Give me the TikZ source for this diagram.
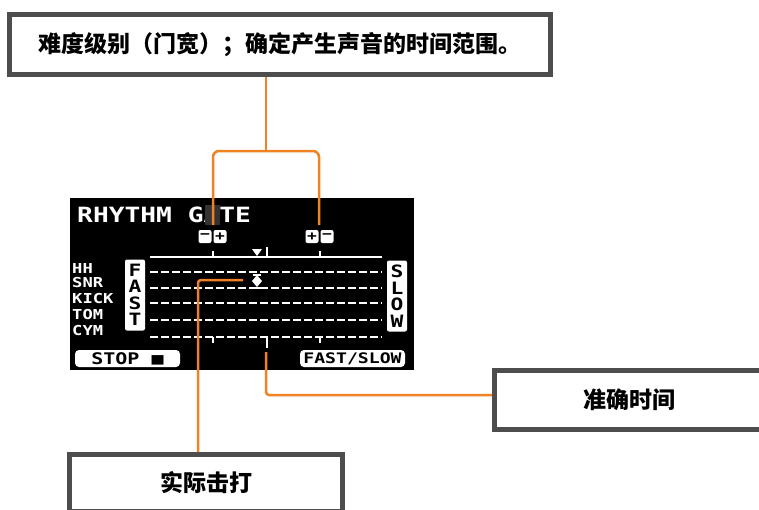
\documentclass[tikz,border=0pt]{standalone}
\usepackage{fontspec}
\newfontfamily\cjk{Noto Sans CJK SC}
\newfontfamily\lcd[FakeStretch=1.25]{DejaVu Sans Mono}
\usetikzlibrary{positioning, calc}
\definecolor{calloutorange}{RGB}{240,130,36}
\definecolor{boxgray}{RGB}{77,77,77}

\begin{document}
\begin{tikzpicture}[
    x=1pt, y=-1pt,
    notebox/.style={rectangle, draw=boxgray, line width=5pt, outer sep=2.5pt, fill=white, inner sep=0pt, font=\cjk\bfseries\fontsize{23}{23}\selectfont},
    callout/.style={draw=calloutorange, line width=2.5pt, rounded corners=3pt},
    lcdtext/.style={text=white, inner sep=0pt, font=\lcd\bfseries\fontsize{13.7}{16}\selectfont},
    lcdkey/.style={fill=white, text=black, rounded corners=2pt, inner sep=0pt, align=center},
    track/.style={white, line width=2pt, dash pattern=on 8pt off 3pt},
    tick/.style={white, line width=1.5pt}
]
\useasboundingbox (0,0) rectangle (759,509);
\clip (0,0) rectangle (759,509);

% Screen
\fill[black] (70,198) rectangle (414,370);
\node[lcdtext, anchor=west, font=\lcd\bfseries\fontsize{21}{21}\selectfont] (title) at (77,215) {RHYTHM GATE};
\fill[black!80] (205,205) rectangle (220,225);

\node[lcdkey, minimum width=13pt, minimum height=13pt, font=\lcd\bfseries\fontsize{13}{13}\selectfont] (minusL) at (205,236.5) {−};
\node[lcdkey, minimum width=13pt, minimum height=13pt, font=\lcd\bfseries\fontsize{13}{13}\selectfont] (plusL) at (220,236.5) {+};
\node[lcdkey, minimum width=13pt, minimum height=13pt, font=\lcd\bfseries\fontsize{13}{13}\selectfont] (plusR) at (312,236.5) {+};
\node[lcdkey, minimum width=13pt, minimum height=13pt, font=\lcd\bfseries\fontsize{13}{13}\selectfont] (minusR) at (327,236.5) {−};

\draw[white, line width=2pt] (150,257) -- (382,257);
\draw[tick] (213,257) -- (213,251);
\draw[tick] (267,257) -- (267,247);
\draw[tick] (320,257) -- (320,251);
\fill[white] (252,249) -- (262,249) -- (257,256) -- cycle;

\node[lcdtext, anchor=west] (hh) at (72,268) {HH};
\node[lcdtext, anchor=west] (snr) at (72,283) {SNR};
\node[lcdtext, anchor=west] (kick) at (72,299) {KICK};
\node[lcdtext, anchor=west] (tom) at (72,315) {TOM};
\node[lcdtext, anchor=west] (cym) at (72,331) {CYM};

\node[lcdkey, minimum width=20pt, minimum height=71pt, font=\lcd\bfseries\fontsize{17}{16.5}\selectfont] (fast) at (135,295) {F\\A\\S\\T};
\node[lcdkey, minimum width=20pt, minimum height=71pt, font=\lcd\bfseries\fontsize{17}{16.5}\selectfont] (slow) at (397,296) {S\\L\\O\\W};

\draw[track] (150,272) -- (382,272);
\draw[track] (150,288) -- (382,288);
\draw[track] (150,303) -- (382,303);
\draw[track] (150,320) -- (382,320);
\draw[track] (150,337) -- (382,337);

\fill[white] (257,275) -- (262,281) -- (257,287) -- (252,281) -- cycle;
\draw[tick] (253,275) -- (261,275);
\draw[tick] (253,288) -- (261,288);
\draw[tick] (213,337) -- (213,343);
\draw[tick] (267,337) -- (267,348);
\draw[tick] (320,337) -- (320,343);

\node[lcdkey, minimum width=105pt, minimum height=17pt, rounded corners=4pt, font=\lcd\bfseries\fontsize{16}{16}\selectfont] (stop) at (127.5,358.5) {STOP ■};
\node[lcdkey, minimum width=105pt, minimum height=17pt, rounded corners=4pt, font=\lcd\bfseries\fontsize{14.5}{14.5}\selectfont] (fastslow) at (352.5,358.5) {FAST/SLOW};

% Notes
\node[notebox, minimum width=541pt, minimum height=60pt] (gatenote) at (280,44.5) {难度级别（门宽）；确定产生声音的时间范围。};
\node[notebox, minimum width=270pt, minimum height=59pt] (exactnote) at (629.5,400) {准确时间};
\node[notebox, minimum width=273pt, minimum height=57pt] (actualnote) at (206,483) {实际击打};

% Connectors
\coordinate (gateL) at (213,225);
\coordinate (gateR) at (319,225);
\coordinate (gatehub) at (266,151);
\coordinate (exactpt) at (266,352);
\coordinate (hitpt) at (243,280);
\coordinate (hitbend) at (198,280);

\draw[callout, rounded corners=6pt] (gateL) |- (gatehub) -| (gateR);
\draw[callout] (gatehub) -- (gatehub |- gatenote.south);
\draw[callout] (exactpt) |- ([yshift=5pt]exactnote.west);
\draw[callout] (hitpt) -- (hitbend) -- (hitbend |- actualnote.north);

\end{tikzpicture}
\end{document}
